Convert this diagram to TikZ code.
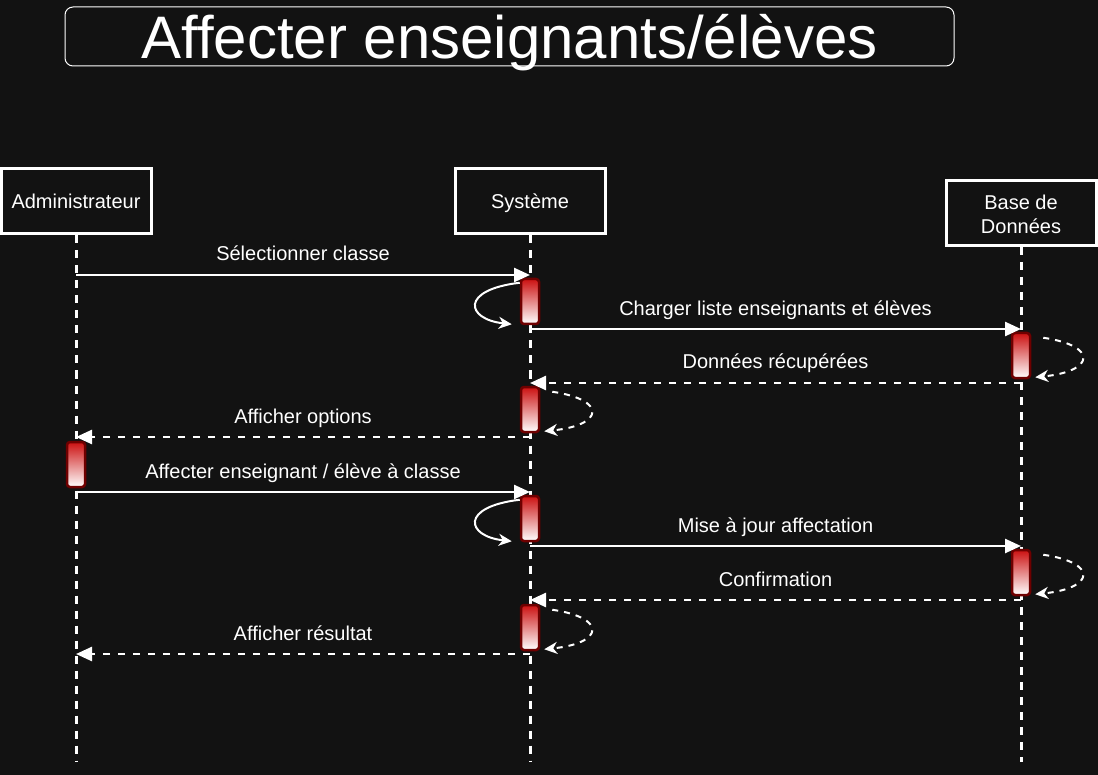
\documentclass[tikz,border=0pt]{standalone}
\usepackage{fontspec}
\setmainfont{Liberation Sans}
\usetikzlibrary{arrows.meta}
\definecolor{bgcol}{HTML}{121212}
\definecolor{actborder}{HTML}{6F0000}
\definecolor{actred}{HTML}{CC1111}
\begin{document}
\begin{tikzpicture}[x=0.5pt,y=-0.5pt,
  actor/.style={draw=white,line width=1.5pt,fill=bgcol,text=white,font=\fontsize{10}{12}\selectfont,align=center,minimum width=75pt,minimum height=32.5pt,inner sep=0pt},
  activ/.style={draw=actborder,line width=1.25pt,rounded corners=1.5pt,top color=actred,bottom color=white,minimum width=9pt,minimum height=22.5pt,inner sep=0pt},
  lifeline/.style={white,line width=1.5pt,dash pattern=on 4pt off 3.5pt},
  msg/.style={white,line width=1.25pt,-{Triangle[length=8pt,width=7pt]}},
  reply/.style={msg,dash pattern=on 3.5pt off 4pt},
  selfcall/.style={white,line width=1pt,-{Stealth[length=6.5pt,width=6pt,inset=2pt]}},
  selfback/.style={selfcall,dash pattern=on 3pt off 3pt},
  lbl/.style={text=white,font=\fontsize{10}{12}\selectfont,anchor=base,yshift=7pt,inner sep=0pt}]
\useasboundingbox (0,0) rectangle (1098,775);
\fill[bgcol] (0,0) rectangle (1098,775);

\node[draw=white,line width=0.5pt,rounded corners=4pt,text=white,font=\fontsize{30}{36}\selectfont,text depth=0pt,minimum width=444.5pt,minimum height=29.5pt,inner sep=0pt] (title) at (509.5,36.5) {Affecter enseignants/élèves};

\node[actor,text depth=0pt] (adm) at (76,201.5) {Administrateur};
\node[actor,text depth=0pt] (sys) at (530,201.5) {Système};
\node[actor] (bdd) at (1021,213) {\strut Base de\\Données};
\coordinate (admend) at (76,762);
\coordinate (sysend) at (530,762);
\coordinate (bddend) at (1021,762);
\draw[lifeline] (adm.south) -- (admend);
\draw[lifeline] (sys.south) -- (sysend);
\draw[lifeline] (bdd.south) -- (bddend);

\node[activ] (s1) at (530,301.5) {};
\node[activ] (d1) at (1021,355.5) {};
\node[activ] (s2) at (530,409.5) {};
\node[activ] (a1) at (76,464.5) {};
\node[activ] (s3) at (530,518.5) {};
\node[activ] (d2) at (1021,572.5) {};
\node[activ] (s4) at (530,627.5) {};

\draw[msg] (adm.south |- 0,275) -- node[lbl] {Sélectionner classe} (sys.south |- 0,275);
\draw[selfcall] ([yshift=-2.5pt]s1.north west) .. controls +(-60,7) and +(-46,-5) .. ([xshift=-4pt,yshift=0.5pt]s1.south west);
\draw[msg] (sys.south |- 0,329) -- node[lbl] {Charger liste enseignants et élèves} (bdd.south |- 0,329);
\draw[selfback] ([xshift=6pt,yshift=-3pt]d1.north east) .. controls +(55,8) and +(60,-6) .. ([xshift=2pt,yshift=1pt]d1.south east);
\draw[reply] (bdd.south |- 0,383) -- node[lbl] {Données récupérées} (sys.south |- 0,383);
\draw[selfback] ([xshift=6pt,yshift=-3pt]s2.north east) .. controls +(55,8) and +(60,-6) .. ([xshift=2pt,yshift=1pt]s2.south east);
\draw[reply] (sys.south |- 0,437) -- node[lbl] {Afficher options} (adm.south |- 0,437);
\draw[msg] (adm.south |- 0,492) -- node[lbl] {Affecter enseignant / élève à classe} (sys.south |- 0,492);
\draw[selfcall] ([yshift=-2.5pt]s3.north west) .. controls +(-60,7) and +(-46,-5) .. ([xshift=-4pt,yshift=0.5pt]s3.south west);
\draw[msg] (sys.south |- 0,546) -- node[lbl] {Mise à jour affectation} (bdd.south |- 0,546);
\draw[selfback] ([xshift=6pt,yshift=-3pt]d2.north east) .. controls +(55,8) and +(60,-6) .. ([xshift=2pt,yshift=1pt]d2.south east);
\draw[reply] (bdd.south |- 0,600) -- node[lbl] {Confirmation} (sys.south |- 0,600);
\draw[selfback] ([xshift=6pt,yshift=-3pt]s4.north east) .. controls +(55,8) and +(60,-6) .. ([xshift=2pt,yshift=1pt]s4.south east);
\draw[reply] (sys.south |- 0,654) -- node[lbl] {Afficher résultat} (adm.south |- 0,654);

\end{tikzpicture}
\end{document}
